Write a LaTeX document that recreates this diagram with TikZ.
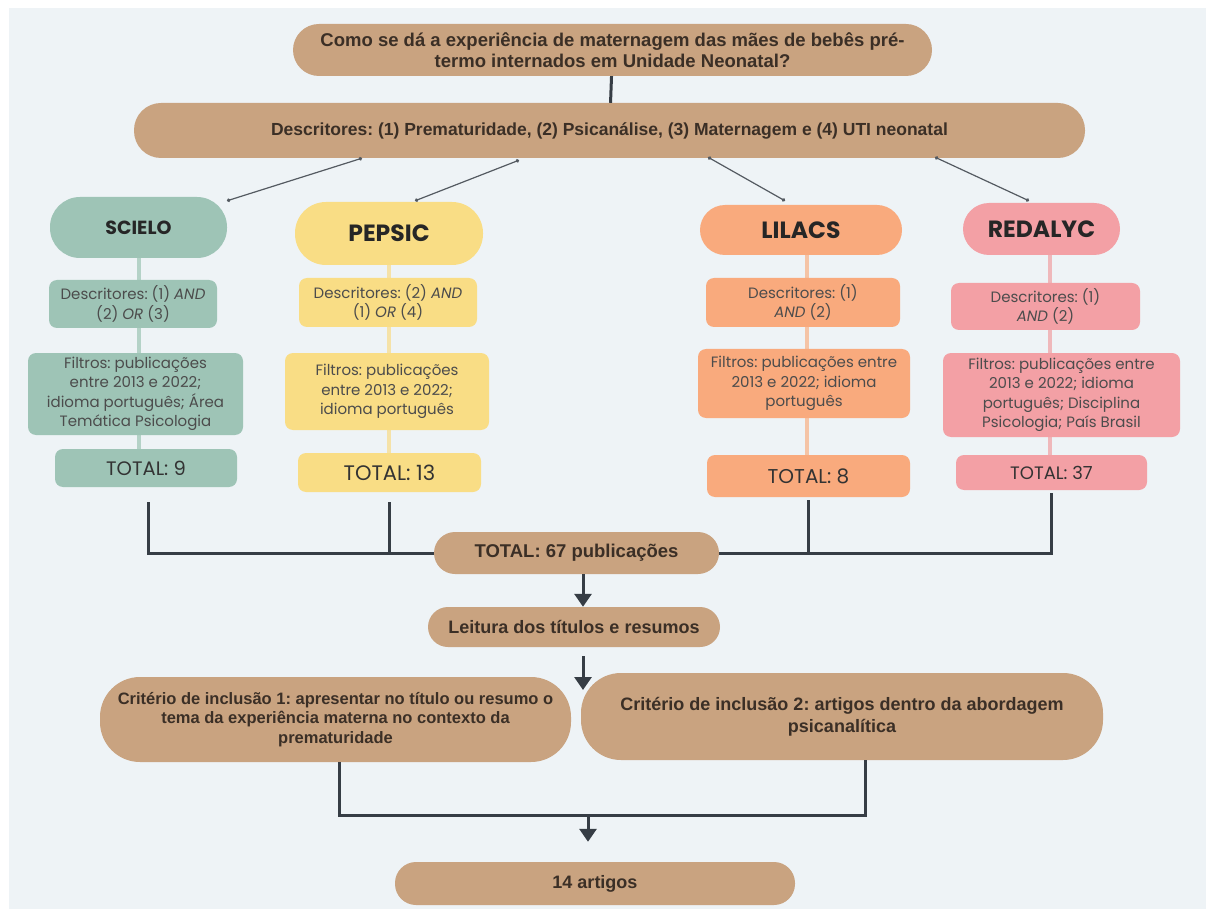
\documentclass[tikz,border=0pt]{standalone}
\usepackage{fontspec}
\setmainfont{Liberation Sans}
\newfontfamily\colfont{Poppins}
\usetikzlibrary{arrows.meta}
\frenchspacing

\definecolor{panel}{HTML}{EEF3F6}
\definecolor{boxtan}{HTML}{C9A380}
\definecolor{tantext}{HTML}{3B2F26}
\definecolor{ink}{HTML}{363D45}
\definecolor{sage}{HTML}{9EC4B6}
\definecolor{sageline}{HTML}{B4D2C7}
\definecolor{butter}{HTML}{F9DD85}
\definecolor{butterline}{HTML}{F5E2A8}
\definecolor{peach}{HTML}{F9AA7D}
\definecolor{peachline}{HTML}{F5C4A6}
\definecolor{rose}{HTML}{F3A0A5}
\definecolor{roseline}{HTML}{EFB8BB}

\pgfdeclarelayer{panel}
\pgfdeclarelayer{links}
\pgfsetlayers{panel,links,main}

\begin{document}
\begin{tikzpicture}[x=1pt, y=-1pt,
  tanbox/.style={fill=boxtan, rounded corners=#1, align=center, inner sep=0pt,
    text=tantext, font=\bfseries\fontsize{18}{22}\selectfont},
  tanbox/.default=20pt,
  dbtitle/.style={rounded corners=#1, align=center, inner sep=0pt,
    text=black!85, font=\colfont\bfseries\fontsize{23.5}{26}\selectfont},
  colbox/.style={rounded corners=8pt, align=center, inner sep=0pt,
    text=black!70, font=\colfont\fontsize{15}{19.5}\selectfont},
  totbox/.style={colbox, font=\colfont\fontsize{#1}{22}\selectfont, text=black!80},
  trunk/.style={draw=ink, line width=3pt},
  feed/.style={draw=ink!85, line width=1.2pt, {Circle[length=3.5pt]}-{Circle[length=3.5pt]}},
  down/.style={draw=ink, line width=3pt, -{Triangle[length=13pt,width=17pt]}}]

  \begin{pgfonlayer}{panel}
    \useasboundingbox (0,0) rectangle (1213,909);
    \fill[white] (0,0) rectangle (1213,909);
    \fill[panel] (9,8) rectangle (1206,909);
  \end{pgfonlayer}

  % question and descriptors
  \node[tanbox=26pt, minimum width=639, minimum height=52,
    font=\bfseries\fontsize{18.5}{21}\selectfont] (q) at (612.5,50)
    {Como se dá a experiência de maternagem das mães de bebês pré-\\termo internados em Unidade Neonatal?};
  \node[tanbox=27pt, minimum width=951, minimum height=55,
    font=\bfseries\fontsize{17.5}{21}\selectfont] (desc) at (609.5,130.5)
    {Descritores: (1) Prematuridade, (2) Psicanálise, (3) Maternagem e (4) UTI neonatal};

  % SCIELO
  \node[dbtitle=30pt, fill=sage, minimum width=177, minimum height=61,
    font=\colfont\bfseries\fontsize{19}{22}\selectfont] (t1) at (138.5,227.5) {SCIELO};
  \node[colbox, fill=sage, minimum width=168, minimum height=48] (d1) at (133,304)
    {Descritores: (1) \textit{AND}\\(2) \textit{OR} (3)};
  \node[colbox, fill=sage, minimum width=215, minimum height=82] (f1) at (135.5,394)
    {Filtros: publicações\\entre 2013 e 2022;\\idioma português; Área\\Temática Psicologia};
  \node[totbox=19.5, fill=sage, minimum width=182, minimum height=38] (n1) at (146,468) {TOTAL: 9};

  % PEPSIC
  \node[dbtitle=31pt, fill=butter, minimum width=188, minimum height=63] (t2) at (389,233.5) {PEPSIC};
  \node[colbox, fill=butter, minimum width=178, minimum height=49] (d2) at (388,302.5)
    {Descritores: (2) \textit{AND}\\(1) \textit{OR} (4)};
  \node[colbox, fill=butter, minimum width=204, minimum height=77] (f2) at (387,391.5)
    {Filtros: publicações\\entre 2013 e 2022;\\idioma português};
  \node[totbox=21, fill=butter, minimum width=183, minimum height=39] (n2) at (389.5,472.5) {TOTAL: 13};

  % LILACS
  \node[dbtitle=25pt, fill=peach, minimum width=202, minimum height=50] (t3) at (801,230) {LILACS};
  \node[colbox, fill=peach, minimum width=194, minimum height=49] (d3) at (803,302.5)
    {Descritores: (1)\\\textit{AND} (2)};
  \node[colbox, fill=peach, minimum width=212, minimum height=69] (f3) at (804,383.5)
    {Filtros: publicações entre\\2013 e 2022; idioma\\português};
  \node[totbox=20, fill=peach, minimum width=203, minimum height=42] (n3) at (808.5,476) {TOTAL: 8};

  % REDALYC
  \node[dbtitle=26pt, fill=rose, minimum width=157, minimum height=52] (t4) at (1041.5,229) {REDALYC};
  \node[colbox, fill=rose, minimum width=189, minimum height=47] (d4) at (1045.5,306.5)
    {Descritores: (1)\\\textit{AND} (2)};
  \node[colbox, fill=rose, minimum width=237, minimum height=84] (f4) at (1061.5,395)
    {Filtros: publicações entre\\2013 e 2022; idioma\\português; Disciplina\\Psicologia; País Brasil};
  \node[totbox=18, fill=rose, minimum width=191, minimum height=35] (n4) at (1051.5,472.5) {TOTAL: 37};

  % screening
  \node[tanbox=21pt, minimum width=285, minimum height=42,
    font=\bfseries\fontsize{18.5}{22}\selectfont] (tot) at (576.5,553) {TOTAL: 67 publicações};
  \node[tanbox=20pt, minimum width=292, minimum height=40] (leit) at (574,627)
    {Leitura dos títulos e resumos};
  \node[tanbox=40pt, minimum width=471, minimum height=85,
    font=\bfseries\fontsize{16.5}{19.5}\selectfont] (c1) at (335.5,719.5)
    {Critério de inclusão 1: apresentar no título ou resumo o\\tema da experiência materna no contexto da\\prematuridade};
  \node[tanbox=40pt, minimum width=522, minimum height=87] (c2) at (842,716.5)
    {Critério de inclusão 2: artigos dentro da abordagem\\psicanalítica};
  \node[tanbox=21pt, minimum width=400, minimum height=43] (art) at (595,883.5) {14 artigos};

  \coordinate (gap) at (583,690);
  \coordinate (jl) at (339,815);
  \coordinate (join) at (588,815);
  \coordinate (jr) at (865,815);

  \begin{pgfonlayer}{links}
    \draw[line width=4pt, sageline] (t1) -- (t1 |- n1);
    \draw[line width=4pt, butterline] (t2) -- (t2 |- n2);
    \draw[line width=4pt, peachline] ([xshift=6pt]t3.center) -- ([xshift=6pt]t3.center |- n3);
    \draw[line width=4pt, roseline] ([xshift=8pt]t4.center) -- ([xshift=8pt]t4.center |- n4);
  \end{pgfonlayer}

  \draw[trunk] (q) -- (desc);
  \draw[feed] ([xshift=-247.5pt]desc.south) -- ([xshift=88.5pt,yshift=-4pt]t1.north);
  \draw[feed] ([xshift=-90.5pt,yshift=-2pt]desc.south) -- ([xshift=26pt,yshift=1pt]t2.north);
  \draw[feed] ([xshift=98.5pt,yshift=1pt]desc.south) -- ([xshift=-16pt,yshift=4pt]t3.north);
  \draw[feed] ([xshift=325.5pt,yshift=1pt]desc.south) -- ([xshift=-12.5pt,yshift=2pt]t4.north);

  \draw[trunk] ([xshift=2pt,yshift=-15pt]n1.south) |- (tot.west);
  \draw[trunk] ([yshift=-10pt]n2.south) -- (n2.south |- tot.west);
  \draw[trunk] ([yshift=-3pt]n3.south) -- (n3.south |- tot.east);
  \draw[trunk] ([yshift=-3pt]n4.south) |- (tot.east);

  \draw[down] ([xshift=6.5pt]tot.south) -- ([xshift=9pt]leit.north);
  \draw[down] ([xshift=9pt,yshift=-9pt]leit.south) -- (gap);
  \draw[trunk] ([xshift=3.5pt]c1.south) -- (jl) -- (jr) -- ([xshift=23pt]c2.south);
  \draw[down] (join) -- ([xshift=-7pt,yshift=20pt]art.north);
\end{tikzpicture}
\end{document}
